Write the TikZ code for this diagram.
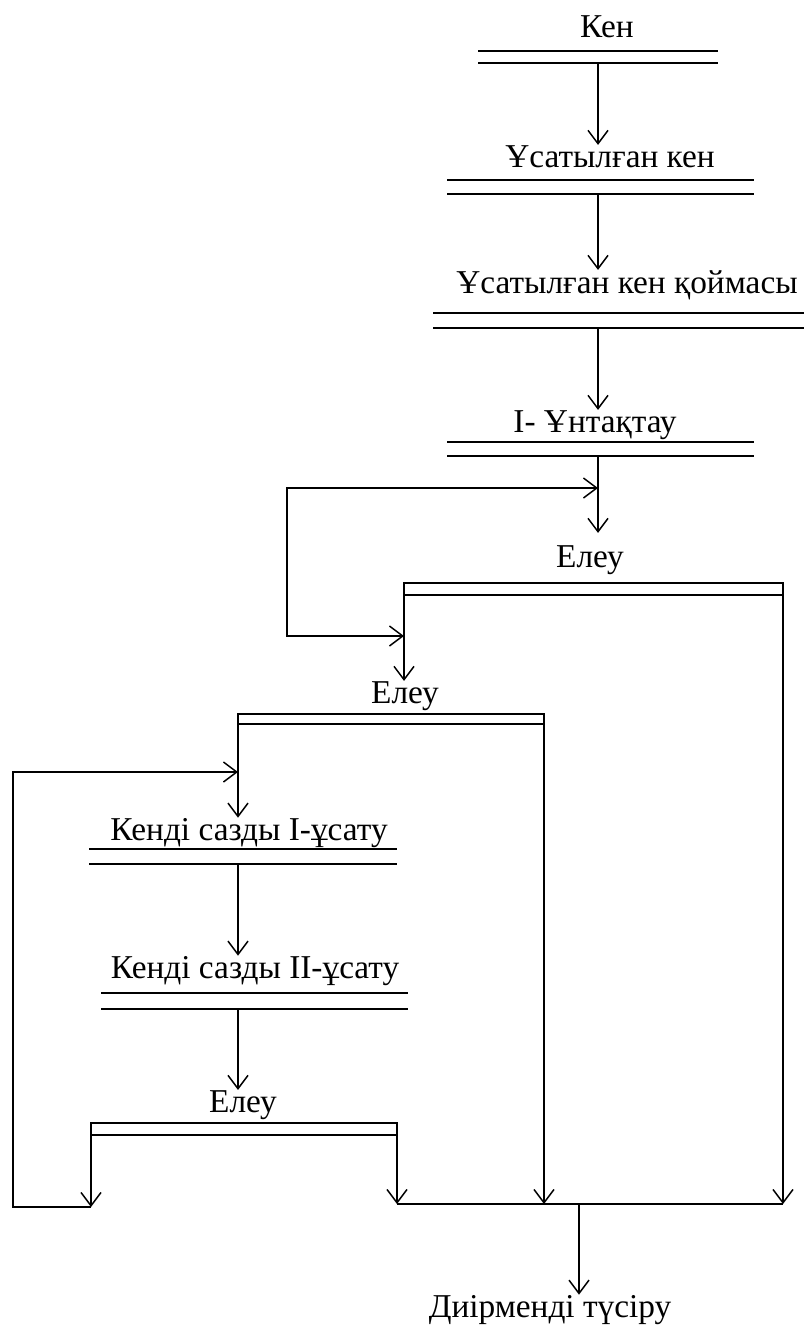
\documentclass[tikz,border=0pt]{standalone}
\usepackage{fontspec}
\setmainfont{Liberation Serif}
\usetikzlibrary{arrows.meta}

\tikzset{
  line/.style={line width=1.1pt},
  flow/.style={line, -{Straight Barb[length=10pt,width=15pt,line width=1.1pt]}},
  flowboth/.style={line, {Straight Barb[length=10pt,width=15pt,line width=1.1pt]}-{Straight Barb[length=10pt,width=15pt,line width=1.1pt]}},
  lbl/.style={anchor=base, inner sep=0pt, font=\fontsize{25}{28}\selectfont},
}

\begin{document}
\begin{tikzpicture}[x=0.75pt, y=-0.75pt]
  % Page = reference image, in pixels (y grows downward)
  \path[use as bounding box] (0,0) rectangle (804,1329);

  % ---- LABELS (centre x / baseline y) ----
  \foreach \nm/\cx/\by/\txt in {
      ore/607/37/{Кен},
      crushed/610/167/{Ұсатылған кен},
      store/627/293/{Ұсатылған кен қоймасы},
      grind/595/432/{I- Ұнтақтау},
      scrA/590/567/{Елеу},
      scrB/405/703/{Елеу},
      clayA/249/840/{Кенді сазды I-ұсату},
      clayB/255/978/{Кенді сазды II-ұсату},
      scrC/243/1112/{Елеу},
      mill/550/1317/{Диірменді түсіру}%
    } {
    \node[lbl] (\nm) at (\cx,\by) {\txt};
  }

  % ---- PROCESS BARS (double rule under each step) ----
  \foreach \nm/\xa/\xb/\ya/\yb/\ox in {
      ore/478/718/51/63/598,
      crushed/447/754/180/194/598,
      store/433/804/313/328/598,
      grind/447/754/442/456/598,
      clayA/89/397/849/864/238,
      clayB/101/408/993/1009/238%
    } {
    \draw[line] (\xa,\ya) -- (\xb,\ya) (\xa,\yb) -- (\xb,\yb);
    \coordinate (\nm-out) at (\ox,\yb);
  }

  % ---- SCREENS (open box, both sides carry on downward) ----
  \foreach \nm/\xa/\xb/\ya/\yb in {
      scrA/404/783/583/595,
      scrB/238/544/714/724,
      scrC/91/397/1123/1135%
    } {
    \draw[line] (\xa,\yb) -- (\xa,\ya) -- (\xb,\ya) -- (\xb,\yb) -- cycle;
    \coordinate (\nm-left) at (\xa,\yb);
    \coordinate (\nm-right) at (\xb,\yb);
  }

  \coordinate (loopA-top) at (598,488);
  \coordinate (loopA-bot) at (404,636);
  \coordinate (loopA-side) at (287,560);
  \coordinate (loopB) at (238,772);
  \coordinate (ret) at (13,1207);
  \coordinate (sink) at (579,1204);

  % main column
  \draw[flow] (ore-out) -- (ore-out |- crushed.north);
  \draw[flow] (crushed-out) -- (crushed-out |- store.north);
  \draw[flow] (store-out) -- (store-out |- grind.north);
  \draw[flow] (grind-out) -- ([yshift=9pt]grind-out |- scrA.north);

  % first screen: oversize back to the top, undersize to second screen
  \draw[flowboth] (loopA-bot) -- (loopA-side |- loopA-bot)
    -- (loopA-side |- loopA-top) -- (loopA-top);
  \draw[flow] (scrA-left) -- (scrA-left |- scrB.north);
  \draw[flow] (scrA-right) -- (scrA-right |- sink);

  % second screen and clay crushing
  \draw[flow] (scrB-left) -- (scrB-left |- clayA.north);
  \draw[flow] (scrB-right) -- (scrB-right |- sink);
  \draw[flow] (clayA-out) -- (clayA-out |- clayB.north);
  \draw[flow] (clayB-out) -- (clayB-out |- scrC.north);

  % third screen: return loop and collector
  \draw[flow] (scrC-left) -- (scrC-left |- ret);
  \draw[flow] (scrC-left |- ret) -- (ret) -- (ret |- loopB) -- (loopB);
  \draw[flow] (scrC-right) -- (scrC-right |- sink);
  \draw[line] (scrC-right |- sink) -- (scrA-right |- sink);
  \draw[flow] (sink) -- (sink |- mill.north);
\end{tikzpicture}
\end{document}
